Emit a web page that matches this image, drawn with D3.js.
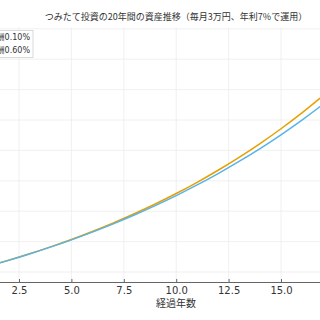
<!DOCTYPE html>
<html>
<head>
<meta charset="utf-8">
<script src="https://cdn.jsdelivr.net/npm/d3@7"></script>
<style>
  body { margin: 0; background: #fff; }
  svg { display: block; }
</style>
</head>
<body>
<script>
// Data (values in 万円, yearly)
var years = d3.range(0, 21);
var fee010 = [0, 37.2, 77.0, 119.6, 165.3, 214.2, 266.6, 322.8, 382.9, 447.3, 516.4,
              590.3, 669.5, 754.4, 845.2, 942.6, 1046.9, 1158.6, 1278.3, 1406.5, 1543.8];
var fee060 = [0, 37.1, 76.6, 118.7, 163.6, 211.5, 262.5, 316.9, 374.9, 436.6, 502.5,
              572.7, 647.5, 727.3, 812.3, 902.9, 999.5, 1102.5, 1212.3, 1329.3, 1454.0];
var seriesNames = ['信託報酬0.10%', '信託報酬0.60%'];
var xTicks = [0, 2.5, 5, 7.5, 10, 12.5, 15, 17.5];
var xTickLabels = [2.5, 5, 7.5, 10, 12.5, 15];   // the ones inside the visible window
var yTicks = [0, 200, 400, 600, 800, 1000, 1200, 1400, 1600];
var titleText = 'つみたて投資の20年間の資産推移（毎月3万円、年利7%で運用）';
var xLabel = '経過年数';

var width = 320, height = 320;

var svg = d3.select('body').append('svg')
    .attr('width', width)
    .attr('height', height);

// Scales: plot area is wider than the visible window
var xScale = d3.scaleLinear().domain([0, 20]).range([-33.4, 385.8]),
    yScale = d3.scaleLinear().domain([-65.8, 1610]).range([282, 27.3]);

// Grid
svg.append('g')
   .selectAll('line')
   .data(xTicks)
   .enter().append('line')
   .attr('x1', function(d) { return xScale(d); })
   .attr('x2', function(d) { return xScale(d); })
   .attr('y1', yScale.range()[1])
   .attr('y2', yScale.range()[0])
   .attr('stroke', '#ececec')
   .attr('stroke-width', 0.8);

svg.append('g')
   .selectAll('line')
   .data(yTicks)
   .enter().append('line')
   .attr('x1', xScale.range()[0])
   .attr('x2', xScale.range()[1])
   .attr('y1', function(d) { return yScale(d); })
   .attr('y2', function(d) { return yScale(d); })
   .attr('stroke', '#ececec')
   .attr('stroke-width', 0.8);

// Lines
var drawLine = d3.line()
    .x(function(d, i) { return xScale(years[i]); })
    .y(function(d) { return yScale(d); })
    .curve(d3.curveMonotoneX);

svg.append('path')
   .attr('d', drawLine(fee010))
   .attr('fill', 'none')
   .attr('stroke', '#e69f00')
   .attr('stroke-width', 1.5);

svg.append('path')
   .attr('d', drawLine(fee060))
   .attr('fill', 'none')
   .attr('stroke', '#56b4e9')
   .attr('stroke-width', 1.5);

// X axis
var xAxis = svg.append('g')
   .attr('transform', 'translate(0,' + yScale.range()[0] + ')')
   .call(d3.axisBottom(xScale).tickValues(xTickLabels).tickFormat(d3.format('.1f'))
         .tickSizeInner(-3).tickSizeOuter(0).tickPadding(5));
xAxis.select('.domain').attr('stroke', '#666').attr('stroke-width', 1);
xAxis.selectAll('.tick line').attr('stroke', '#666');
xAxis.selectAll('text')
   .attr('fill', '#333')
   .style('font-family', 'DejaVu Sans, sans-serif')
   .style('font-size', '10px');

svg.append('text')
   .text(xLabel)
   .attr('x', 176)
   .attr('y', 307)
   .attr('text-anchor', 'middle')
   .attr('fill', '#333')
   .style('font-family', 'Noto Sans CJK JP, sans-serif')
   .style('font-size', '10px');

// Title
svg.append('text')
   .text(titleText)
   .attr('x', 176)
   .attr('y', 20)
   .attr('text-anchor', 'middle')
   .attr('fill', '#333')
   .style('font-family', 'Noto Sans CJK JP, DejaVu Sans, sans-serif')
   .style('font-size', '9px');

// Legend (cut off on the left like the reference)
svg.append('rect')
   .attr('x', -60)
   .attr('y', 30.5)
   .attr('width', 93)
   .attr('height', 27)
   .attr('fill', '#fff')
   .attr('stroke', '#d0d0d0')
   .attr('stroke-width', 0.8);

svg.append('g')
   .selectAll('text')
   .data(seriesNames)
   .enter().append('text')
   .text(function(d) { return d; })
   .attr('x', 30)
   .attr('y', function(d, i) { return 40 + i * 12.5; })
   .attr('text-anchor', 'end')
   .attr('fill', '#333')
   .style('font-family', 'DejaVu Sans, Noto Sans CJK JP, sans-serif')
   .style('font-size', '8px');
</script>
</body>
</html>
